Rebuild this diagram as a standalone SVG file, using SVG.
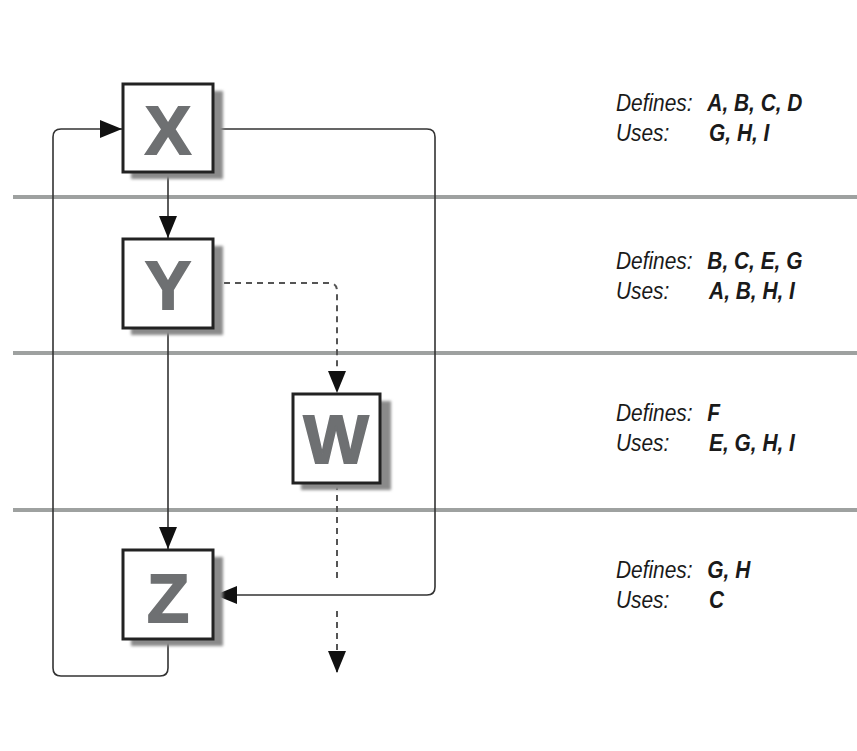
<svg xmlns="http://www.w3.org/2000/svg" width="857" height="751" viewBox="0 0 857 751">
<style>
.sep{stroke:#9ea1a0;stroke-width:4;fill:none}
.box{fill:#fff;stroke:#222;stroke-width:3}
.shadow{fill:#8a8a8a;filter:url(#blur)}
.big{font-family:"Liberation Sans",Arial,sans-serif;font-weight:bold;font-size:69px;fill:#6e7072;stroke:#6e7072;stroke-width:1.8;text-anchor:middle}
.conn{fill:none;stroke:#333;stroke-width:1.6}
.dash{fill:none;stroke:#555;stroke-width:2;stroke-dasharray:6 5}
.lbl{font-family:"Liberation Sans",Arial,sans-serif;font-size:24px;font-style:italic;fill:#1a1a1a}
.val{font-weight:bold}
</style>
<defs>
<filter id="blur" x="-20%" y="-20%" width="140%" height="140%"><feGaussianBlur stdDeviation="1.5"/></filter>
<marker id="arr" viewBox="0 0 22 18" refX="22" refY="9" markerWidth="22" markerHeight="18" markerUnits="userSpaceOnUse" orient="auto"><path d="M0,0 L22,9 L0,18 Z" fill="#111"/></marker>
</defs>
<rect width="857" height="751" fill="#fff"/>
<g id="separators">
<line class="sep" x1="13" y1="197" x2="857" y2="197"/>
<line class="sep" x1="13" y1="353" x2="857" y2="353"/>
<line class="sep" x1="13" y1="510" x2="857" y2="510"/>
</g>
<g id="connectors">
<path class="conn" d="M168,173 V238" marker-end="url(#arr)"/>
<path class="conn" d="M214,129 H427 Q435,129 435,137 V587 Q435,595 427,595 H215" marker-end="url(#arr)"/>
<path class="conn" d="M168,329 V549" marker-end="url(#arr)"/>
<path class="dash" d="M213,283 H329 Q337,283 337,291 V393" marker-end="url(#arr)"/>
<path class="dash" d="M337,484 V579"/>
<path class="dash" d="M337,611 V673" marker-end="url(#arr)"/>
<path class="conn" d="M168,640 V668 Q168,676 160,676 H61 Q53,676 53,668 V137 Q53,129 61,129 H122" marker-end="url(#arr)"/>
</g>
<g id="node-X">
<rect class="shadow" x="131" y="91" width="92" height="88"/>
<rect class="box" x="123" y="84" width="90" height="88"/>
<text class="big" x="168" y="154">X</text>
</g>
<g id="node-Y">
<rect class="shadow" x="131" y="246" width="92" height="89"/>
<rect class="box" x="123" y="239" width="90" height="89"/>
<text class="big" x="168" y="309">Y</text>
</g>
<g id="node-W">
<rect class="shadow" x="301" y="401" width="90" height="89"/>
<rect class="box" x="293" y="394" width="87" height="89"/>
<text class="big" x="336" y="463">W</text>
</g>
<g id="node-Z">
<rect class="shadow" x="131" y="557" width="92" height="89"/>
<rect class="box" x="123" y="550" width="90" height="89"/>
<text class="big" x="168" y="622">Z</text>
</g>
<g id="info-X" transform="translate(616,0) scale(0.87,1)">
<text class="lbl" x="0" y="111">Defines:</text><text class="lbl val" x="105" y="111">A, B, C, D</text>
<text class="lbl" x="0" y="141">Uses:</text><text class="lbl val" x="107" y="141">G, H, I</text>
</g>
<g id="info-Y" transform="translate(616,0) scale(0.87,1)">
<text class="lbl" x="0" y="269">Defines:</text><text class="lbl val" x="105" y="269">B, C, E, G</text>
<text class="lbl" x="0" y="299">Uses:</text><text class="lbl val" x="107" y="299">A, B, H, I</text>
</g>
<g id="info-W" transform="translate(616,0) scale(0.87,1)">
<text class="lbl" x="0" y="421">Defines:</text><text class="lbl val" x="105" y="421">F</text>
<text class="lbl" x="0" y="451">Uses:</text><text class="lbl val" x="107" y="451">E, G, H, I</text>
</g>
<g id="info-Z" transform="translate(616,0) scale(0.87,1)">
<text class="lbl" x="0" y="578">Defines:</text><text class="lbl val" x="105" y="578">G, H</text>
<text class="lbl" x="0" y="608">Uses:</text><text class="lbl val" x="107" y="608">C</text>
</g>
</svg>
